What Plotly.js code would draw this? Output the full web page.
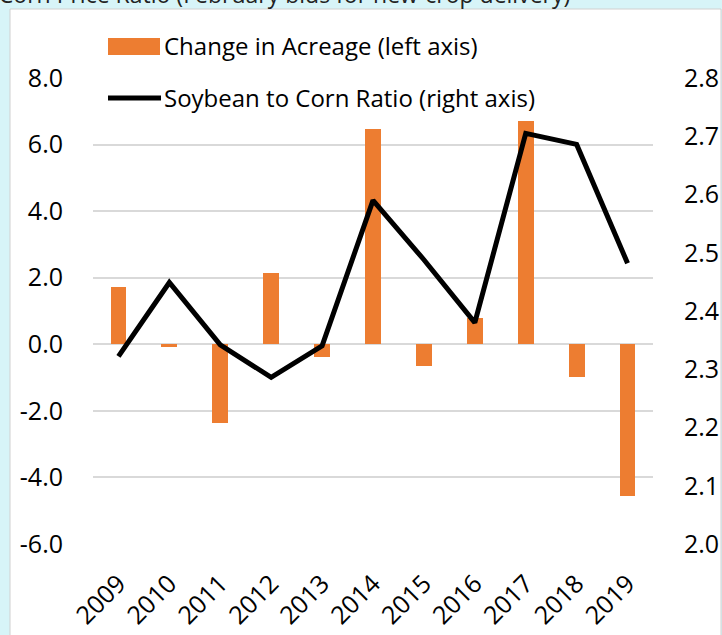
<!DOCTYPE html>
<html>
<head>
<meta charset="utf-8">
<script src="https://cdn.plot.ly/plotly-3.0.1.min.js"></script>
<style>html,body{margin:0;padding:0;background:#d7f4f8;}#chart{width:722px;height:635px;}</style>
</head>
<body>
<div id="chart"></div>
<script>
const years = ["2009","2010","2011","2012","2013","2014","2015","2016","2017","2018","2019"];
const acreageChange = [1.73, -0.07, -2.37, 2.13, -0.37, 6.46, -0.64, 0.80, 6.71, -0.97, -4.57];
const soyCornRatio = [2.322, 2.449, 2.342, 2.286, 2.340, 2.590, 2.488, 2.380, 2.705, 2.686, 2.482];
const leftTicks = [-6, -4, -2, 0, 2, 4, 6, 8];
const leftTickText = ["-6.0", "-4.0", "-2.0", "0.0", "2.0", "4.0", "6.0", "8.0"];
const rightTicks = [2.0, 2.1, 2.2, 2.3, 2.4, 2.5, 2.6, 2.7, 2.8];
const rightTickText = ["2.0", "2.1", "2.2", "2.3", "2.4", "2.5", "2.6", "2.7", "2.8"];
const barName = "Change in Acreage (left axis)";
const lineName = "Soybean to Corn Ratio (right axis)";
const titleText = "Soybean to Corn Price Ratio (February bids for new-crop delivery)";

const FONT = "'Open Sans', Lato, sans-serif";
const W = 722, H = 635, L = 93, R = 69, T = 78, B = 91;
const pw = W - L - R, ph = H - T - B;
const px = x => (x - L) / pw;
const py = y => (H - B - y) / ph;

const traces = [
  {type: "bar", x: years, y: acreageChange, name: barName, marker: {color: "#ED7D31"}, width: 0.31, showlegend: false, yaxis: "y"},
  {type: "scatter", mode: "lines", x: years, y: soyCornRatio, name: lineName, line: {color: "#000", width: 5}, showlegend: false, yaxis: "y2"}
];

const layout = {
  width: W, height: H,
  margin: {l: L, r: R, t: T, b: B, pad: 0},
  paper_bgcolor: "#d7f4f8",
  plot_bgcolor: "rgba(0,0,0,0)",
  font: {family: FONT, color: "#000"},
  showlegend: false,
  xaxis: {type: "category", tickangle: -45, tickfont: {size: 25, family: FONT}, showgrid: false, zeroline: false, showline: false, ticks: "outside", ticklen: 14, tickcolor: "rgba(0,0,0,0)", automargin: false},
  yaxis: {range: [-6, 8], tickvals: leftTicks, ticktext: leftTickText, tickfont: {size: 25, family: FONT}, gridcolor: "#d9d9d9", gridwidth: 2, zeroline: false, showline: false, ticks: "outside", ticklen: 24, tickcolor: "rgba(0,0,0,0)", automargin: false},
  yaxis2: {range: [2.0, 2.8], tickvals: rightTicks, ticktext: rightTickText, overlaying: "y", side: "right", showgrid: false, zeroline: false, showline: false, tickfont: {size: 25, family: FONT}, ticks: "outside", ticklen: 25, tickcolor: "rgba(0,0,0,0)", automargin: false},
  bargap: 0,
  shapes: [
    {type: "rect", xref: "paper", yref: "paper", x0: px(10), x1: px(721), y0: py(645), y1: py(9), fillcolor: "#ffffff", line: {color: "#d0d0d0", width: 1}, layer: "below"},
    {type: "rect", xref: "paper", yref: "paper", x0: px(108), x1: px(160), y0: py(55), y1: py(38), fillcolor: "#ED7D31", line: {width: 0}},
    {type: "line", xref: "paper", yref: "paper", x0: px(108), x1: px(161), y0: py(98), y1: py(98), line: {color: "#000", width: 5}}
  ],
  annotations: [
    {xref: "paper", yref: "paper", x: px(162), y: py(46), xanchor: "left", yanchor: "middle", text: barName, showarrow: false, font: {size: 24, family: FONT, color: "#000"}},
    {xref: "paper", yref: "paper", x: px(162), y: py(98), xanchor: "left", yanchor: "middle", text: lineName, showarrow: false, font: {size: 24, family: FONT, color: "#000"}},
    {xref: "paper", yref: "paper", x: px(572), y: py(12), xanchor: "right", yanchor: "bottom", text: titleText, showarrow: false, font: {size: 23, family: FONT, color: "#222"}}
  ]
};

Plotly.newPlot("chart", traces, layout, {displayModeBar: false, staticPlot: true});
</script>
</body>
</html>
